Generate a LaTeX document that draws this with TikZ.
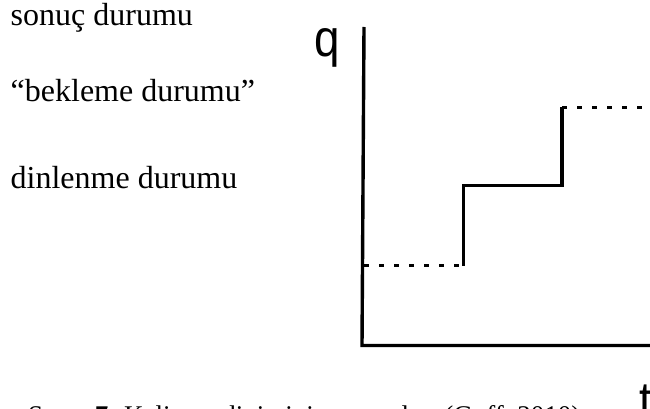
\documentclass[tikz,border=0pt]{standalone}
\usepackage{fontspec}
\setmainfont{Liberation Serif}
\newfontfamily\axisfont{Liberation Sans}
\begin{document}
\begin{tikzpicture}[x=1pt,y=-1pt,
  lbl/.style={anchor=base west,inner sep=0pt,font=\fontsize{32}{38}\selectfont},
  axlbl/.style={anchor=base west,inner sep=0pt,font=\axisfont\fontsize{52}{60}\selectfont,xscale=0.88},
  axisline/.style={line width=3.4pt,line join=miter},
  stepline/.style={line width=3.4pt,line join=miter},
  dotline/.style={line width=3.4pt,dash pattern=on 4.5pt off 10.5pt}]
\useasboundingbox (0,0) rectangle (650,409);
\clip (0,0) rectangle (650,409);
\fill[white] (0,0) rectangle (650,409);
% labels
\node[lbl] (sonuc) at (10.5,26) {sonuç durumu};
\node[lbl] (bekleme) at (10.5,102) {“bekleme durumu”};
\node[lbl] (dinlenme) at (10.5,188) {dinlenme durumu};
\node[axlbl] (q) at (314.5,57) {q};
\node[axlbl] (t) at (639,418) {t};
\node[anchor=base west,inner sep=0pt,font=\fontsize{27}{32}\selectfont] (caption) at (28,424) {Şema \textbf{7.} Kelime ediniminin aşamaları (Goff, 2010)};
% axes
\coordinate (top) at (364,27);
\coordinate (origin) at (362,345.5);
\coordinate (right) at (652,345.5);
\draw[axisline] (top) -- (origin) -- (right);
% steps
\coordinate (a0) at (364,265.7);
\coordinate (a1) at (463.5,265.7);
\coordinate (a2) at (463.5,185.7);
\coordinate (a3) at (562,185.7);
\coordinate (a4) at (562,107.3);
\coordinate (a5) at (652,107.3);
\draw[dotline] (a0) -- (a1);
\draw[stepline] (a1) -- (a2) -- (a3) -- (a4);
\draw[dotline] (a4) -- (a5);
\end{tikzpicture}
\end{document}
